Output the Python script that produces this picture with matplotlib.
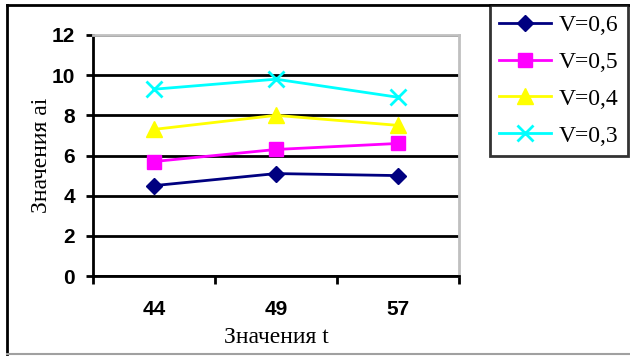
import matplotlib
matplotlib.use("Agg")
import matplotlib.pyplot as plt
from matplotlib.lines import Line2D

# Data
t_labels = ["44", "49", "57"]
series_names = ["V=0,6", "V=0,5", "V=0,4", "V=0,3"]
v06 = [4.5, 5.1, 5.0]
v05 = [5.7, 6.3, 6.6]
v04 = [7.3, 8.0, 7.5]
v03 = [9.3, 9.8, 8.9]
y_ticks = [0, 2, 4, 6, 8, 10, 12]

W, H = 630, 356
fig = plt.figure(figsize=(W / 100, H / 100), dpi=100)
fig.patch.set_facecolor("white")

ax = fig.add_axes([93 / W, 1 - 276 / H, (459 - 93) / W, (276 - 35) / H])

x = list(range(len(t_labels)))
styles = [
    dict(color="#000080", marker="D", markersize=8.5, markerfacecolor="#000080", markeredgecolor="#000080"),
    dict(color="#FF00FF", marker="s", markersize=10, markerfacecolor="#FF00FF", markeredgecolor="#FF00FF"),
    dict(color="#FFFF00", marker="^", markersize=11, markerfacecolor="#FFFF00", markeredgecolor="#FFFF00"),
    dict(color="#00FFFF", marker="x", markersize=11, markeredgewidth=2, markeredgecolor="#00FFFF"),
]
handles = []
for vals, name, st in zip([v06, v05, v04, v03], series_names, styles):
    ln, = ax.plot(x, vals, linewidth=2, label=name, zorder=3, **st)
    handles.append(ln)

ax.set_xlim(-0.5, len(t_labels) - 0.5)
ax.set_ylim(0, 12)
ax.set_yticks(y_ticks)
ax.set_yticklabels([str(v) for v in y_ticks], fontfamily="Liberation Sans",
                   fontweight="bold", fontsize=15)
ax.set_xticks(x)
ax.set_xticklabels(t_labels, fontfamily="Liberation Sans", fontweight="bold", fontsize=15)
ax.set_xticks([i - 0.5 for i in range(len(t_labels) + 1)], minor=True)
ax.tick_params(axis="x", which="major", length=0, pad=17)
ax.tick_params(axis="x", which="minor", length=6, width=2, direction="out", color="black")
ax.tick_params(axis="y", length=5, width=2, direction="out", color="black", pad=8)

ax.yaxis.grid(True, color="black", linewidth=2)
ax.set_axisbelow(True)
for side in ("left", "bottom"):
    ax.spines[side].set_color("black")
    ax.spines[side].set_linewidth(2)
for side in ("top", "right"):
    ax.spines[side].set_color("#C0C0C0")
    ax.spines[side].set_linewidth(2)

ax.set_xlabel("Значения t", fontfamily="Liberation Serif", fontsize=17, labelpad=6)
ax.set_ylabel("Значения ai", fontfamily="Liberation Serif", fontsize=17, labelpad=0)

leg = fig.legend(handles=handles, loc="upper left",
                 bbox_to_anchor=(490 / W, 1 - 5 / H), bbox_transform=fig.transFigure,
                 prop={"family": "Liberation Serif", "size": 17},
                 frameon=True, fancybox=False, handlelength=2.2, handletextpad=0.3,
                 labelspacing=0.65, borderpad=0.4, borderaxespad=0)
leg.get_frame().set_edgecolor("black")
leg.get_frame().set_linewidth(2)

# Outer chart border
fig.add_artist(Line2D([7 / W, 1], [1 - 5 / H, 1 - 5 / H], transform=fig.transFigure,
                      color="black", linewidth=2))
fig.add_artist(Line2D([7 / W, 7 / W], [1 - 5 / H, 1 - 354 / H], transform=fig.transFigure,
                      color="black", linewidth=2))
fig.add_artist(Line2D([7 / W, 1], [1 - 354 / H, 1 - 354 / H], transform=fig.transFigure,
                      color="#A0A0A0", linewidth=1.5))

fig.savefig("out.png", dpi=100, facecolor="white")
